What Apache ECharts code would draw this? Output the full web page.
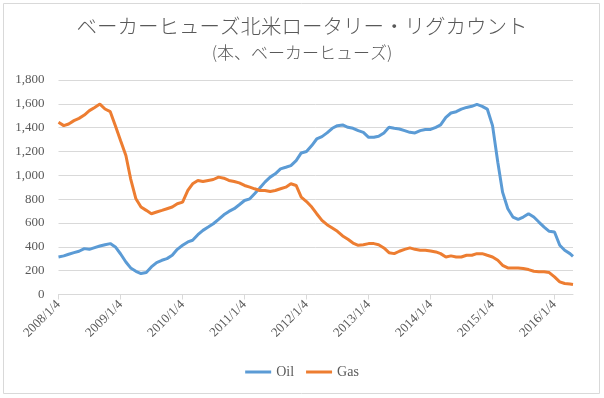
<!DOCTYPE html>
<html>
<head>
<meta charset="utf-8">
<script src="https://cdn.jsdelivr.net/npm/echarts@6/dist/echarts.min.js"></script>
<style>
  html, body { margin: 0; padding: 0; background: #fff; }
  #chart { width: 604px; height: 398px; }
</style>
</head>
<body>
<div id="chart"></div>
<script>
// monthly readings (4th of each month) from 2008/1 to 2016/4, plus the last week
const lastDate = '2016/4/22'
const tickLabels = ['2008/1/4', '2009/1/4', '2010/1/4', '2011/1/4', '2012/1/4',
  '2013/1/4', '2014/1/4', '2015/1/4', '2016/1/4']

const oil = [
  315, 324, 338, 351, 363, 385, 379, 393, 407, 418, 427, 399,
  340, 273, 223, 195, 176, 184, 231, 268, 287, 301, 329, 379,
  413, 441, 455, 502, 538, 566, 594, 630, 669, 697, 720, 753,
  789, 803, 845, 893, 943, 985, 1013, 1054, 1068, 1082, 1124, 1188,
  1200, 1250, 1305, 1325, 1356, 1395, 1417, 1423, 1403, 1395, 1375, 1361,
  1319, 1319, 1328, 1356, 1403, 1395, 1389, 1375, 1361, 1356, 1375, 1384,
  1385, 1403, 1423, 1487, 1523, 1534, 1556, 1570, 1579, 1595, 1579, 1556,
  1417, 1110, 859, 720, 650, 630, 650, 678, 650, 608, 566, 530,
  524, 413, 371, 343, 320
]

const gas = [
  1445, 1417, 1431, 1459, 1478, 1506, 1543, 1570, 1598, 1557, 1534, 1417,
  1290, 1166, 971, 803, 734, 706, 678, 692, 706, 720, 734, 762,
  775, 873, 929, 957, 948, 957, 965, 985, 976, 957, 948, 937,
  915, 901, 887, 873, 873, 865, 873, 887, 901, 929, 915, 817,
  780, 734, 678, 622, 586, 558, 530, 491, 463, 432, 413, 418,
  427, 427, 418, 391, 351, 343, 363, 379, 391, 379, 371, 371,
  365, 357, 343, 315, 324, 315, 315, 329, 329, 343, 343, 329,
  315, 287, 245, 223, 223, 223, 218, 209, 195, 190, 190, 184,
  148, 106, 92, 88, 84
]

function toTime(s) {
  const p = s.split('/').map(Number)
  return new Date(p[0], p[1] - 1, p[2]).getTime()
}

// dates: the 4th of every month, then the final week
const dates = []
for (let y = 2008; y <= 2016; y++) {
  for (let m = 1; m <= 12; m++) {
    if (y === 2016 && m > 4) break
    dates.push(y + '/' + m + '/4')
  }
}
dates.push(lastDate)

const tickValues = tickLabels.map(toTime)

const option = {
  animation: false,
  title: {
    text: 'ベーカーヒューズ北米ロータリー・リグカウント',
    subtext: '(本、ベーカーヒューズ)',
    left: 'center',
    top: 11,
    itemGap: 8,
    textStyle: {
      fontFamily: 'Noto Sans CJK JP',
      fontSize: 20.5,
      fontWeight: 300,
      color: '#595959'
    },
    subtextStyle: {
      fontFamily: 'Noto Sans CJK JP',
      fontSize: 17,
      fontWeight: 300,
      color: '#595959'
    }
  },
  graphic: [{
    type: 'rect',
    shape: {x: 3.5, y: 3.5, width: 596, height: 390},
    style: {fill: 'none', stroke: '#d9d9d9', lineWidth: 1},
    silent: true
  }],
  legend: {
    bottom: 14,
    left: 'center',
    icon: 'rect',
    itemWidth: 26,
    itemHeight: 3,
    itemGap: 12,
    textStyle: {fontFamily: 'Liberation Serif', fontSize: 14, color: '#595959'},
    data: ['Oil', 'Gas']
  },
  grid: {left: 58.5, right: 31, top: 80, bottom: 103.5},
  xAxis: {
    type: 'value',
    min: toTime('2008/1/4'),
    max: toTime(lastDate),
    axisLine: {show: true, lineStyle: {color: '#d9d9d9'}},
    axisTick: {show: true, length: 5, customValues: tickValues, lineStyle: {color: '#d9d9d9'}},
    axisLabel: {
      customValues: tickValues,
      rotate: 45,
      fontFamily: 'Liberation Serif',
      fontSize: 13,
      color: '#595959',
      formatter: v => {
        const d = new Date(v)
        return d.getFullYear() + '/' + (d.getMonth() + 1) + '/' + d.getDate()
      }
    },
    splitLine: {show: false}
  },
  yAxis: {
    type: 'value',
    min: 0,
    max: 1800,
    interval: 200,
    axisLine: {show: false},
    axisTick: {show: false},
    axisLabel: {
      fontFamily: 'Liberation Serif',
      fontSize: 13,
      color: '#595959',
      margin: 14,
      formatter: v => v.toLocaleString('en-US')
    },
    splitLine: {lineStyle: {color: '#d9d9d9'}}
  },
  series: [
    {
      name: 'Oil',
      type: 'line',
      symbol: 'none',
      data: dates.map((d, i) => [toTime(d), oil[i]]),
      lineStyle: {color: '#5b9bd5', width: 3},
      itemStyle: {color: '#5b9bd5'}
    },
    {
      name: 'Gas',
      type: 'line',
      symbol: 'none',
      data: dates.map((d, i) => [toTime(d), gas[i]]),
      lineStyle: {color: '#ed7d31', width: 3},
      itemStyle: {color: '#ed7d31'}
    }
  ]
}

const chart = echarts.init(document.getElementById('chart'))
chart.setOption(option)
</script>
</body>
</html>
